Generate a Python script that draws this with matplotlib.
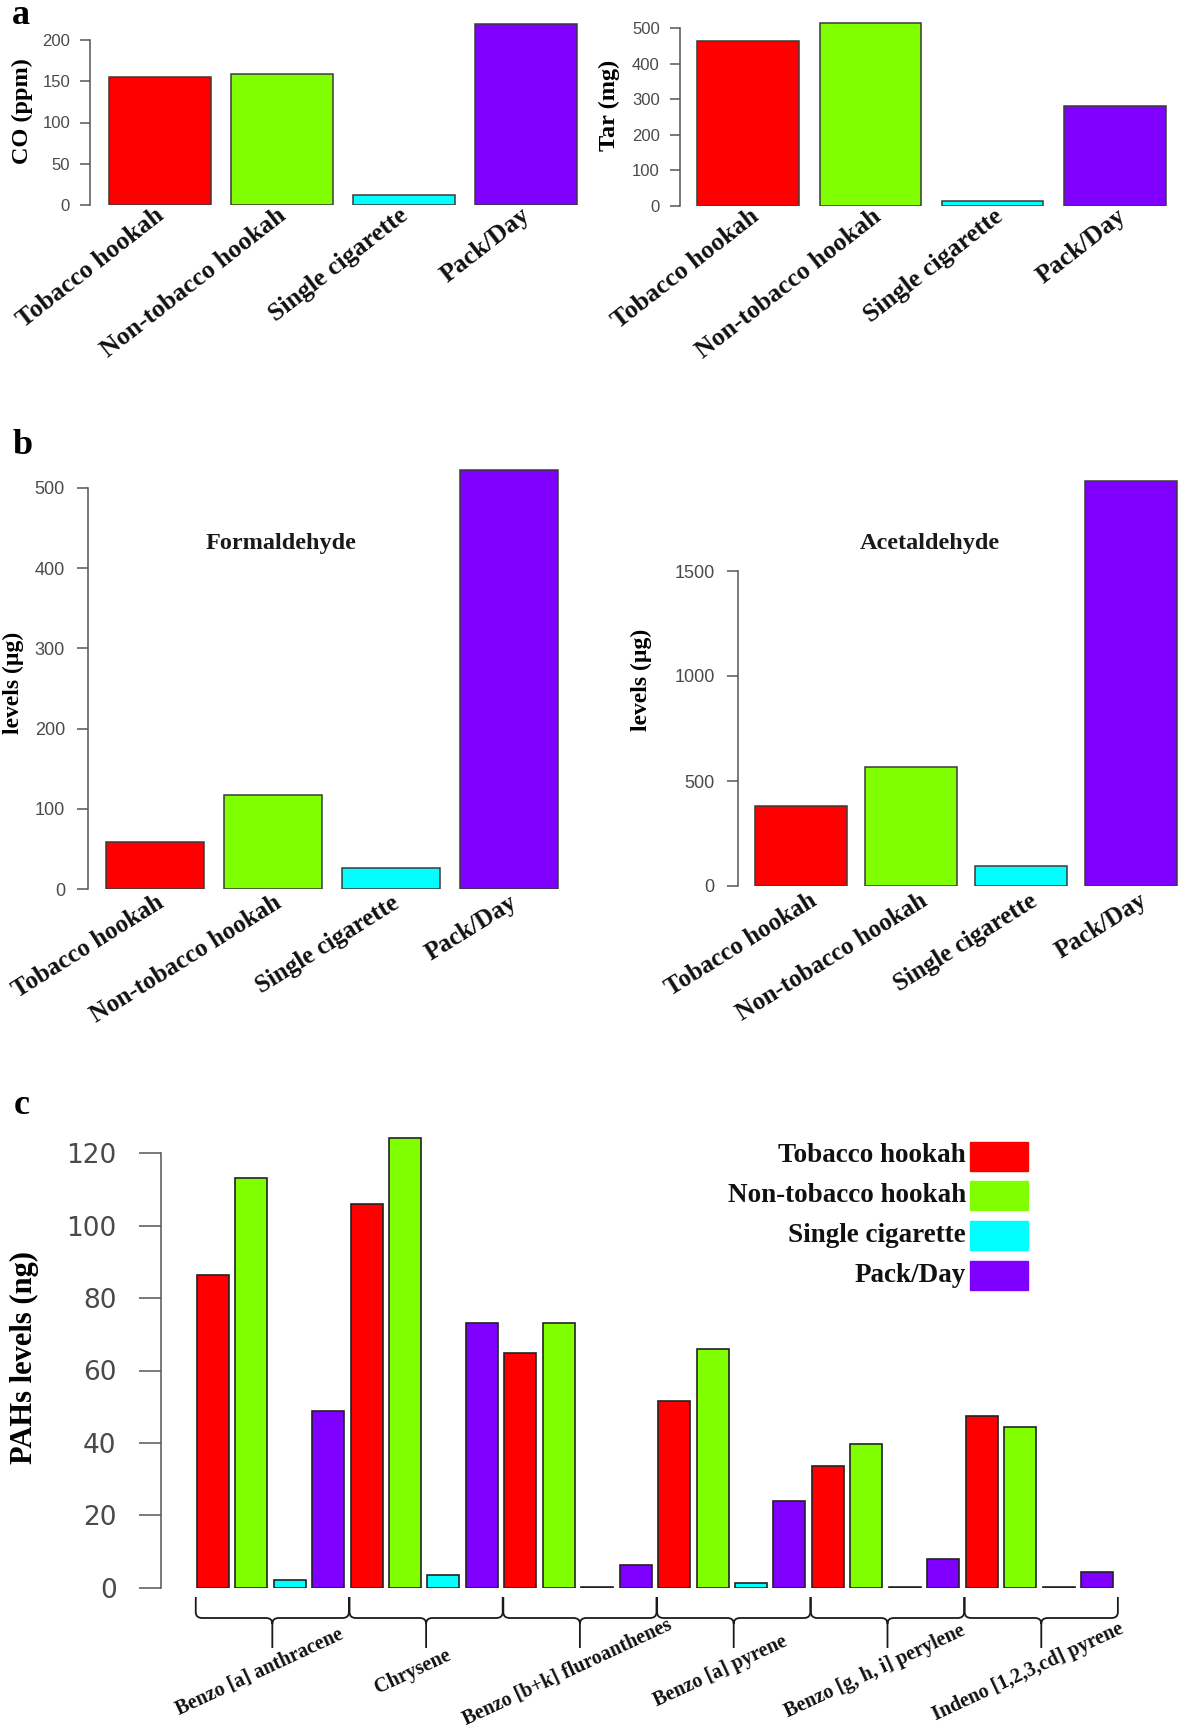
import numpy as np
import matplotlib
matplotlib.use("Agg")
import matplotlib.pyplot as plt
from matplotlib.path import Path
from matplotlib.patches import PathPatch, Rectangle

# ---- data ----
categories = ["Tobacco hookah", "Non-tobacco hookah", "Single cigarette", "Pack/Day"]
colors = ["#FF0000", "#80FF00", "#00FFFF", "#8000FF"]

co_ppm = [155, 159, 12.5, 219]
tar_mg = [463, 514, 14, 281]
formaldehyde = [58, 117, 26, 522]
acetaldehyde = [379, 567, 95, 1929]

pah_names = ["Benzo [a] anthracene", "Chrysene", "Benzo [b+k] fluroanthenes",
             "Benzo [a] pyrene", "Benzo [g, h, i] perylene", "Indeno [1,2,3,cd] pyrene"]
pah_tobacco = [86.4, 106.1, 64.7, 51.7, 33.6, 47.4]
pah_nontobacco = [113.1, 124.1, 73.0, 66.0, 39.7, 44.4]
pah_single = [2.1, 3.6, 0.3, 1.2, 0.3, 0.3]
pah_pack = [48.9, 73.0, 6.3, 24.0, 7.9, 4.3]

W, H = 1181, 1734
SERIF = "Liberation Serif"
SANS = "Liberation Sans"
TICKC = "#4a4a4a"

fig = plt.figure(figsize=(W / 100, H / 100), dpi=100)


def panel(left, right, top, bottom, x0px, xunit, yunit):
    # axes placed in pixel coords; x0px = pixel of data x=0, units in px per data unit
    ax = fig.add_axes([left / W, 1 - bottom / H, (right - left) / W, (bottom - top) / H])
    ax.set_xlim((left - x0px) / xunit, (right - x0px) / xunit)
    ax.set_ylim(0, (bottom - top) / yunit)
    ax.patch.set_alpha(0)
    for s in ["top", "right", "bottom"]:
        ax.spines[s].set_visible(False)
    ax.spines["left"].set_color("#555555")
    ax.spines["left"].set_linewidth(1.1)
    ax.set_xticks([])
    return ax


def ftext(x, y, s, **kw):
    fig.text(x / W, 1 - y / H, s, **kw)


def simple_bars(ax, vals, ticks, xunit, yunit, angle, dx_px, dy_px, tick_len, tick_pad, tick_fs, lab_fs):
    x = 0.7 + 1.2 * np.arange(len(vals))
    ax.bar(x, vals, width=1.0, color=colors, edgecolor="#3a3a3a", linewidth=1.1)
    ax.set_yticks(ticks)
    ax.spines["left"].set_bounds(ticks[0], ticks[-1])
    ax.tick_params(axis="y", length=tick_len, width=1.1, color="#555555", pad=tick_pad,
                   labelsize=tick_fs, labelcolor=TICKC)
    for t in ax.get_yticklabels():
        t.set_fontfamily(SANS)
    for xi, lab in zip(x, categories):
        ax.text(xi + dx_px / xunit, -dy_px / yunit, lab, rotation=angle, ha="right", va="center",
                rotation_mode="anchor", fontsize=lab_fs, fontweight="bold", family=SERIF,
                color="#111111", clip_on=False)


# ---- panel a ----
ax1 = panel(90, 590, 20, 205, 88.6, 101.8, 0.825)
simple_bars(ax1, co_ppm, [0, 50, 100, 150, 200], 101.8, 0.825, 38, 1, 8, 7.2, 7.2, 12, 18.5)
ax2 = panel(679.7, 1178, 20, 206, 677, 101.8, 0.356)
simple_bars(ax2, tar_mg, [0, 100, 200, 300, 400, 500], 101.8, 0.356, 38, 8, 8, 7.2, 7.2, 12, 18.5)
ftext(22.5, 111, "CO (ppm)", rotation=90, ha="center", va="center", fontsize=17.5,
      fontweight="bold", family=SERIF)
ftext(609, 105, "Tar (mg)", rotation=90, ha="center", va="center", fontsize=17.5,
      fontweight="bold", family=SERIF)

# ---- panel b ----
ax3 = panel(88, 570, 460, 889, 86.3, 98.3, 0.802)
simple_bars(ax3, formaldehyde, [0, 100, 200, 300, 400, 500], 98.3, 0.802, 32, 6, 12, 8, 8.6, 13, 18)
ax4 = panel(737.6, 1181, 470, 886, 736.7, 91.7, 0.21)
simple_bars(ax4, acetaldehyde, [0, 500, 1000, 1500], 91.7, 0.21, 32, 14, 13, 8, 8.6, 13, 18)
ftext(13, 683, "levels (µg)", rotation=90, ha="center", va="center", fontsize=17,
      fontweight="bold", family=SERIF)
ftext(641, 680, "levels (µg)", rotation=90, ha="center", va="center", fontsize=17,
      fontweight="bold", family=SERIF)
ftext(281, 543, "Formaldehyde", ha="center", va="center", fontsize=17.5,
      fontweight="bold", family=SERIF, color="#1a1a1a")
ftext(930, 543, "Acetaldehyde", ha="center", va="center", fontsize=17.5,
      fontweight="bold", family=SERIF, color="#1a1a1a")

# ---- panel c ----
yu = 3.62
ax5 = panel(161, 1125, 1125, 1587.7, 190.3, 32.04, yu)
series = [pah_tobacco, pah_nontobacco, pah_single, pah_pack]
n = len(pah_names)
for k, vals in enumerate(series):
    xs = 0.7 + 1.2 * (4 * np.arange(n) + k)
    ax5.bar(xs, vals, width=1.0, color=colors[k], edgecolor="#222222", linewidth=1.2)
ticks_c = [0, 20, 40, 60, 80, 100, 120]
ax5.set_yticks(ticks_c)
ax5.spines["left"].set_bounds(0, 120)
ax5.tick_params(axis="y", length=16, width=1.1, color="#555555", pad=16,
                labelsize=19, labelcolor=TICKC)
for t in ax5.get_yticklabels():
    t.set_fontfamily("DejaVu Sans")

# curly braces under each group
y_top, y_h, y_bot = -9.3 / yu, -30.3 / yu, -60.3 / yu
rx, ry = 0.2, 1.6
for g, name in enumerate(pah_names):
    a = 0.2 + 4.8 * g - 0.03
    b = a + 4.78
    m = (a + b) / 2
    verts = [(a, y_top), (a, y_h + ry), (a, y_h), (a + rx, y_h), (m - rx, y_h), (m, y_h), (m, y_h - ry),
             (m, y_bot),
             (m, y_h - ry), (m, y_h), (m + rx, y_h), (b - rx, y_h), (b, y_h), (b, y_h + ry), (b, y_top)]
    codes = [Path.MOVETO, Path.LINETO, Path.CURVE3, Path.CURVE3, Path.LINETO, Path.CURVE3, Path.CURVE3,
             Path.LINETO,
             Path.MOVETO, Path.CURVE3, Path.CURVE3, Path.LINETO, Path.CURVE3, Path.CURVE3, Path.LINETO]
    ax5.add_patch(PathPatch(Path(verts, codes), fill=False, edgecolor="#1a1a1a", linewidth=1.3,
                            clip_on=False))
    ax5.text(m - 0.4, -84 / yu, name, rotation=25, ha="center", va="center", rotation_mode="anchor",
             fontsize=14.5, fontweight="bold", family=SERIF, color="#111111", clip_on=False)

ftext(24, 1357, "PAHs levels (ng)", rotation=90, ha="center", va="center", fontsize=22,
      fontweight="bold", family=SERIF)

# legend drawn by hand at the top right of panel c
leg_y = [1156, 1195, 1235, 1275]
for lab, col, yc in zip(categories, colors, leg_y):
    fig.add_artist(Rectangle((970 / W, 1 - (yc + 14.5) / H), 58 / W, 29 / H,
                             transform=fig.transFigure, facecolor=col, edgecolor=col))
    ftext(966, yc, lab, ha="right", va="center", fontsize=19.5, fontweight="bold",
          family=SERIF, color="#111111")

# panel letters
ftext(21, 15, "a", ha="center", va="center", fontsize=26, fontweight="bold", family=SERIF)
ftext(23, 446, "b", ha="center", va="center", fontsize=26, fontweight="bold", family=SERIF)
ftext(22, 1106, "c", ha="center", va="center", fontsize=26, fontweight="bold", family=SERIF)

fig.savefig("out.png", dpi=100)
